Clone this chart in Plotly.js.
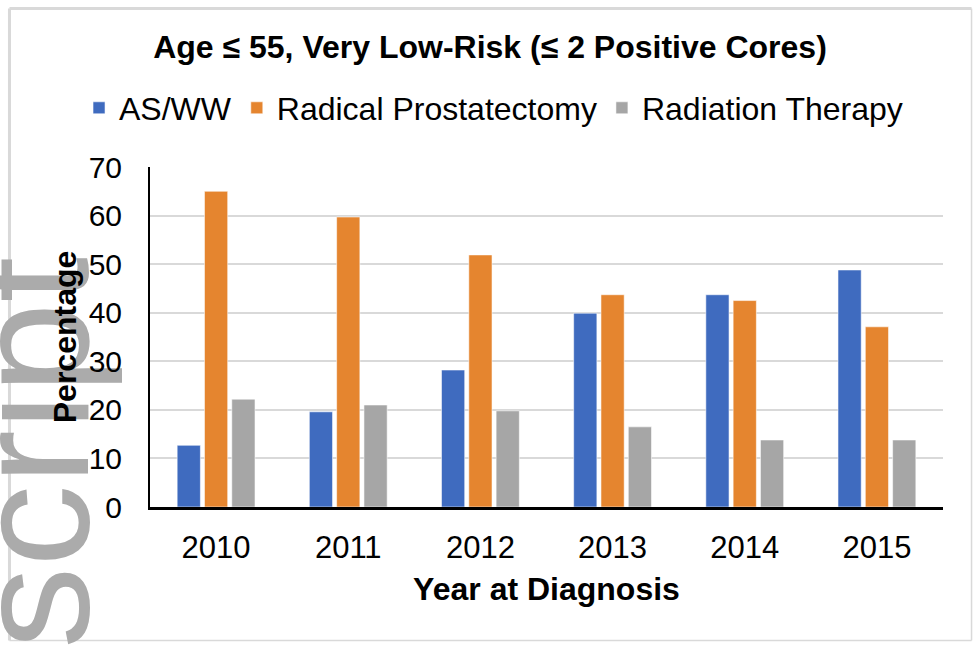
<!DOCTYPE html>
<html>
<head>
<meta charset="utf-8">
<script src="https://cdn.plot.ly/plotly-3.0.1.min.js"></script>
<style>
  html, body { margin: 0; padding: 0; background: #ffffff; }
  #chart { width: 973px; height: 645px; }
</style>
</head>
<body>
<div id="chart"></div>
<script>
// ---- data ----
var years = ['2010', '2011', '2012', '2013', '2014', '2015'];
var seriesNames = ['AS/WW', 'Radical Prostatectomy', 'Radiation Therapy'];
var asww = [12.7, 19.6, 28.2, 39.9, 43.7, 48.8];
var radicalProstatectomy = [65.0, 59.7, 51.9, 43.7, 42.5, 37.1];
var radiationTherapy = [22.2, 21.0, 19.8, 16.5, 13.8, 13.8];
var chartTitle = 'Age \u2264 55, Very Low-Risk (\u2264 2 Positive Cores)';
var xTitle = 'Year at Diagnosis';
var yTitle = 'Percentage';
var watermark = 'script';

var colors = ['#3F6BBF', '#E5852F', '#A6A6A6'];
var values = [asww, radicalProstatectomy, radiationTherapy];
var FONT = 'Arial, "Liberation Sans", sans-serif';

var traces = values.map(function (v, i) {
  return {
    type: 'bar',
    name: seriesNames[i],
    x: years,
    y: v,
    marker: { color: colors[i], line: { color: 'rgba(255,255,255,0.55)', width: 1 } },
    hoverinfo: 'x+y+name'
  };
});

var gridGray = '#d9d9d9';
var frameGray = '#d9d9d9';

var layout = {
  width: 973,
  height: 645,
  margin: { l: 150, r: 30, t: 167, b: 138, pad: 0 },
  paper_bgcolor: '#ffffff',
  plot_bgcolor: '#ffffff',
  font: { family: FONT, color: '#000000' },
  barmode: 'group',
  bargap: 0.38,
  bargroupgap: 0.15,
  title: {
    text: '<b>' + chartTitle + '</b>',
    font: { family: FONT, size: 32, color: '#000000' },
    xref: 'container', yref: 'container',
    x: 0.5036, xanchor: 'center',
    y: 0.927, yanchor: 'middle'
  },
  showlegend: true,
  legend: {
    orientation: 'h',
    x: -0.0895, xanchor: 'left',
    y: 1.1735, yanchor: 'middle',
    font: { family: FONT, size: 32, color: '#000000' },
    bgcolor: 'rgba(0,0,0,0)',
    borderwidth: 0,
    traceorder: 'normal'
  },
  xaxis: {
    type: 'category',
    showgrid: false,
    showline: true,
    linecolor: '#000000',
    linewidth: 2.5,
    ticks: '',
    ticklabelstandoff: 11,
    tickfont: { family: FONT, size: 31, color: '#000000' },
    title: {
      text: '<b>' + xTitle + '</b>',
      font: { family: FONT, size: 32, color: '#000000' },
      standoff: 14
    },
    fixedrange: true
  },
  yaxis: {
    range: [0, 70],
    dtick: 10,
    tick0: 0,
    showgrid: true,
    gridcolor: gridGray,
    gridwidth: 2,
    zeroline: false,
    showline: true,
    linecolor: '#000000',
    linewidth: 2,
    ticks: '',
    ticklabelstandoff: 20,
    tickfont: { family: FONT, size: 30, color: '#000000' },
    title: {
      text: '<b>' + yTitle + '</b>',
      font: { family: FONT, size: 32, color: '#000000' },
      standoff: 2
    },
    fixedrange: true
  },
  shapes: [
    // chart frame
    { type: 'line', xref: 'paper', yref: 'paper', layer: 'below',
      x0: -0.1772, x1: 1.036, y0: 1.466, y1: 1.466, line: { color: frameGray, width: 3 } },
    { type: 'line', xref: 'paper', yref: 'paper', layer: 'below',
      x0: -0.1772, x1: -0.1772, y0: 1.466, y1: -0.3926, line: { color: frameGray, width: 3 } },
    { type: 'line', xref: 'paper', yref: 'paper', layer: 'below',
      x0: 1.036, x1: 1.036, y0: 1.466, y1: -0.3926, line: { color: frameGray, width: 1.5 } },
    { type: 'line', xref: 'paper', yref: 'paper', layer: 'below',
      x0: -0.1772, x1: 1.036, y0: -0.3926, y1: -0.3926, line: { color: frameGray, width: 1.5 } },
    // watermark
    { type: 'rect', xref: 'paper', yref: 'paper', layer: 'below',
      x0: -0.185, x1: -0.153, y0: 0.084, y1: 0.234,
      line: { width: 0 }, fillcolor: 'rgba(0,0,0,0)',
      label: {
        text: watermark,
        textangle: -90,
        textposition: 'middle center',
        font: { family: FONT, size: 164, color: '#ababab' }
      }
    }
  ]
};

Plotly.newPlot('chart', traces, layout, { displayModeBar: false, staticPlot: true });
</script>
</body>
</html>
